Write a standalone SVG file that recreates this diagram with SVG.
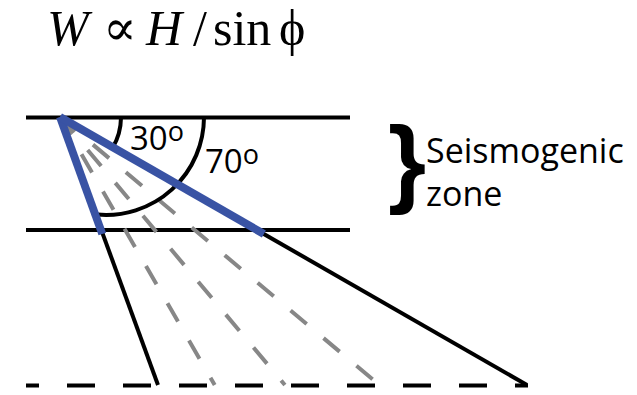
<svg xmlns="http://www.w3.org/2000/svg" width="637" height="395" viewBox="0 0 637 395">
<style>
.blk{stroke:#000;stroke-width:4;fill:none}
.gry{stroke:#878787;stroke-width:4;fill:none;stroke-dasharray:21 22}
.blu{stroke:#3953a4;stroke-width:8;fill:none}
.lbl{font-family:"Open Sans","Liberation Sans",sans-serif;fill:#000}
.eq{font-family:"Liberation Serif","DejaVu Serif",serif;font-size:50px;fill:#000}
</style>
<rect width="637" height="395" fill="#fff"/>
<g id="formula">
<text class="eq" x="47" y="45" font-style="italic">W</text>
<text class="eq" x="103" y="45" font-size="56">∝</text>
<text class="eq" x="146" y="45" font-style="italic">H</text>
<text class="eq" x="193" y="45">/</text>
<text class="eq" x="213" y="45">sin</text>
<text class="eq" x="279" y="45">ϕ</text>
</g>
<g id="layers">
<line class="blk" x1="26" y1="117.5" x2="350" y2="117.5"/>
<line class="blk" x1="26" y1="230" x2="350" y2="230"/>
<line class="blk" x1="26" y1="385.5" x2="528" y2="385.5" stroke-width="5" stroke-dasharray="28 28" stroke-dashoffset="15"/>
</g>
<g id="connectors">
<line class="gry" x1="60" y1="117" x2="214.7" y2="385"/>
<line class="gry" x1="60" y1="117" x2="284.9" y2="385"/>
<line class="gry" x1="60" y1="117" x2="379.4" y2="385"/>
<line class="blk" x1="60" y1="117" x2="158" y2="385"/>
<line class="blk" x1="60" y1="117" x2="527" y2="385"/>
<path class="blk" d="M121,117.5 A61,61 0 0 1 112.8,147.5"/>
<path class="blk" d="M204,117.5 A98,98 0 0 1 97.5,214.6"/>
<line class="blu" x1="60" y1="117" x2="102.3" y2="234"/>
<line class="blu" x1="60" y1="117" x2="263.9" y2="234"/>
</g>
<g id="angle30">
<text class="lbl" x="130" y="150" font-size="33">30<tspan font-size="27" dy="-9">o</tspan></text>
</g>
<g id="angle70">
<text class="lbl" x="205" y="173" font-size="33">70<tspan font-size="27" dy="-9">o</tspan></text>
</g>
<g id="seismogenic">
<text x="388" y="195" font-family="'Liberation Sans',sans-serif" font-weight="bold" font-size="98">}</text>
<text class="lbl" x="426" y="163" font-size="34">Seismogenic</text>
<text class="lbl" x="426" y="206" font-size="34">zone</text>
</g>
</svg>
